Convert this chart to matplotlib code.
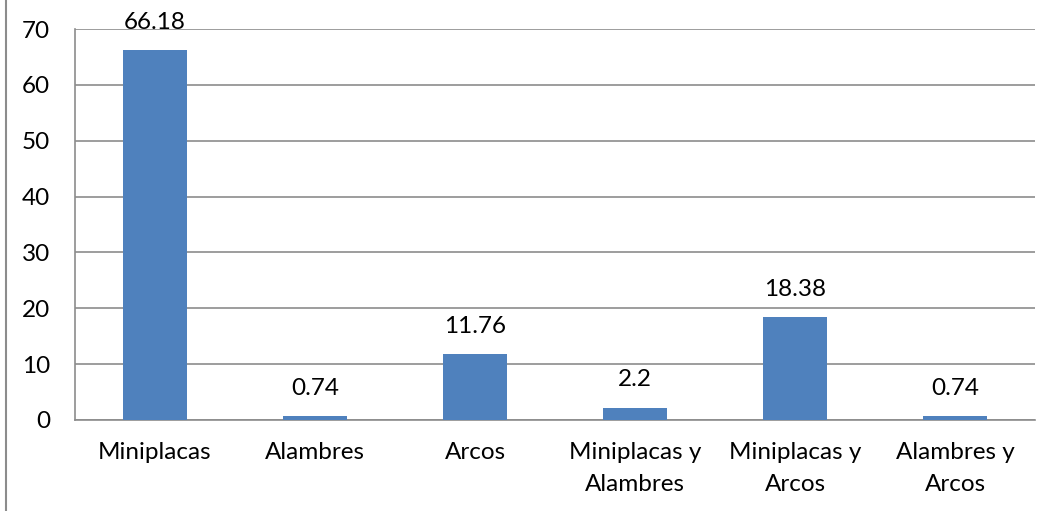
import matplotlib.pyplot as plt
from matplotlib.lines import Line2D

categorias = ['Miniplacas', 'Alambres', 'Arcos', 'Miniplacas y\nAlambres',
              'Miniplacas y\nArcos', 'Alambres y\nArcos']
valores = [66.18, 0.74, 11.76, 2.2, 18.38, 0.74]
etiquetas = ['66.18', '0.74', '11.76', '2.2', '18.38', '0.74']
yticks = [0, 10, 20, 30, 40, 50, 60, 70]

plt.rcParams['font.family'] = ['Lato', 'DejaVu Sans']
fs = 17.5

fig = plt.figure(figsize=(10.56, 5.11), dpi=100)
ax = fig.add_axes([75 / 1056, 1 - 420 / 511, 960 / 1056, 391 / 511])

pos = range(len(categorias))
barras = ax.bar(pos, valores, width=0.4, color='#4f81bd', zorder=3)
for b, txt in zip(barras, etiquetas):
    ax.annotate(txt, (b.get_x() + b.get_width() / 2, b.get_height()),
                xytext=(0, 20), textcoords='offset points',
                ha='center', va='center', fontsize=fs, color='black')

ax.set_xlim(-0.5, len(categorias) - 0.5)
ax.set_ylim(0, 70)
ax.set_yticks(yticks)
ax.set_xticks(list(pos))
ax.set_xticklabels(categorias, fontsize=fs, linespacing=1.65)
ax.tick_params(axis='y', labelsize=fs, length=0, pad=18)
ax.tick_params(axis='x', length=0, pad=16)
ax.grid(axis='y', color='#8c8c8c', linewidth=1.2, zorder=0)

for s in ['top', 'right']:
    ax.spines[s].set_visible(False)
for s in ['left', 'bottom']:
    ax.spines[s].set_color('#8c8c8c')
    ax.spines[s].set_linewidth(1.2)

# borde izquierdo del marco del gráfico
fig.add_artist(Line2D([6 / 1056, 6 / 1056], [0, 1], color='#8c8c8c', linewidth=1.5))

fig.savefig('out.png', dpi=100)
